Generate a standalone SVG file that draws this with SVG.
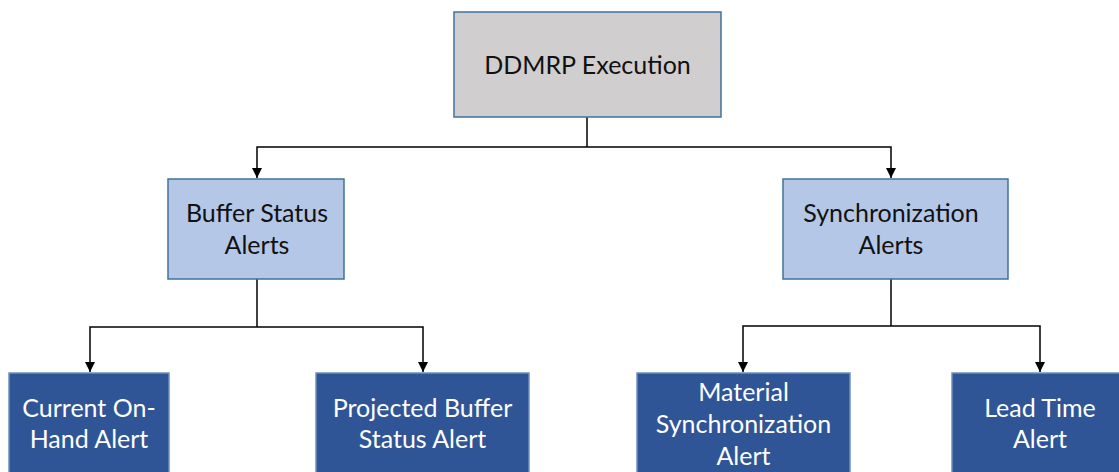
<svg xmlns="http://www.w3.org/2000/svg" width="1119" height="472" viewBox="0 0 1119 472">
  <defs>
    <marker id="arrow" viewBox="0 0 10 10" refX="10" refY="5" markerWidth="10" markerHeight="10" markerUnits="userSpaceOnUse" orient="auto">
      <path d="M0,0 L10,5 L0,10 Z" fill="#000"/>
    </marker>
    <style>
      .root rect { fill: #d0cece; stroke: #41719c; stroke-width: 1.5; }
      .mid rect { fill: #b4c7e7; stroke: #41719c; stroke-width: 1.5; }
      .leaf rect { fill: #2f5597; stroke: #6d8fc0; stroke-width: 1.5; }
      text { font-family: "Lato", "Open Sans", "Liberation Sans", sans-serif; font-size: 25px; text-anchor: middle; }
      .root text, .mid text { fill: #111; }
      .leaf text { fill: #fff; }
      #connectors path { fill: none; stroke: #000; stroke-width: 1.5; }
    </style>
  </defs>
  <rect width="1119" height="472" fill="#fff"/>

  <g id="connectors">
    <path d="M587,117 V147"/>
    <path d="M587,147 H257 V178" marker-end="url(#arrow)"/>
    <path d="M587,147 H891 V178" marker-end="url(#arrow)"/>
    <path d="M257,279 V327"/>
    <path d="M257,327 H90 V372" marker-end="url(#arrow)"/>
    <path d="M257,327 H423 V372" marker-end="url(#arrow)"/>
    <path d="M891,279 V326"/>
    <path d="M891,326 H743 V372" marker-end="url(#arrow)"/>
    <path d="M891,326 H1040 V372" marker-end="url(#arrow)"/>
  </g>

  <g id="ddmrp-execution" class="root">
    <rect x="454" y="12" width="267" height="105"/>
    <text x="587.5" y="74">DDMRP Execution</text>
  </g>

  <g id="buffer-status-alerts" class="mid">
    <rect x="168" y="179" width="176" height="100"/>
    <text x="257" y="222">Buffer Status</text>
    <text x="257" y="254">Alerts</text>
  </g>

  <g id="synchronization-alerts" class="mid">
    <rect x="783" y="179" width="225" height="100"/>
    <text x="891" y="222">Synchronization</text>
    <text x="891" y="254">Alerts</text>
  </g>

  <g id="current-on-hand-alert" class="leaf">
    <rect x="9" y="373" width="160" height="110"/>
    <text x="89" y="417">Current On-</text>
    <text x="89" y="448">Hand Alert</text>
  </g>

  <g id="projected-buffer-status-alert" class="leaf">
    <rect x="316" y="373" width="213" height="110"/>
    <text x="422.5" y="417">Projected Buffer</text>
    <text x="422.5" y="448">Status Alert</text>
  </g>

  <g id="material-synchronization-alert" class="leaf">
    <rect x="637" y="373" width="213" height="110"/>
    <text x="743.5" y="401">Material</text>
    <text x="743.5" y="433">Synchronization</text>
    <text x="743.5" y="465">Alert</text>
  </g>

  <g id="lead-time-alert" class="leaf">
    <rect x="952" y="373" width="176" height="110"/>
    <text x="1040" y="417">Lead Time</text>
    <text x="1040" y="448">Alert</text>
  </g>
</svg>
